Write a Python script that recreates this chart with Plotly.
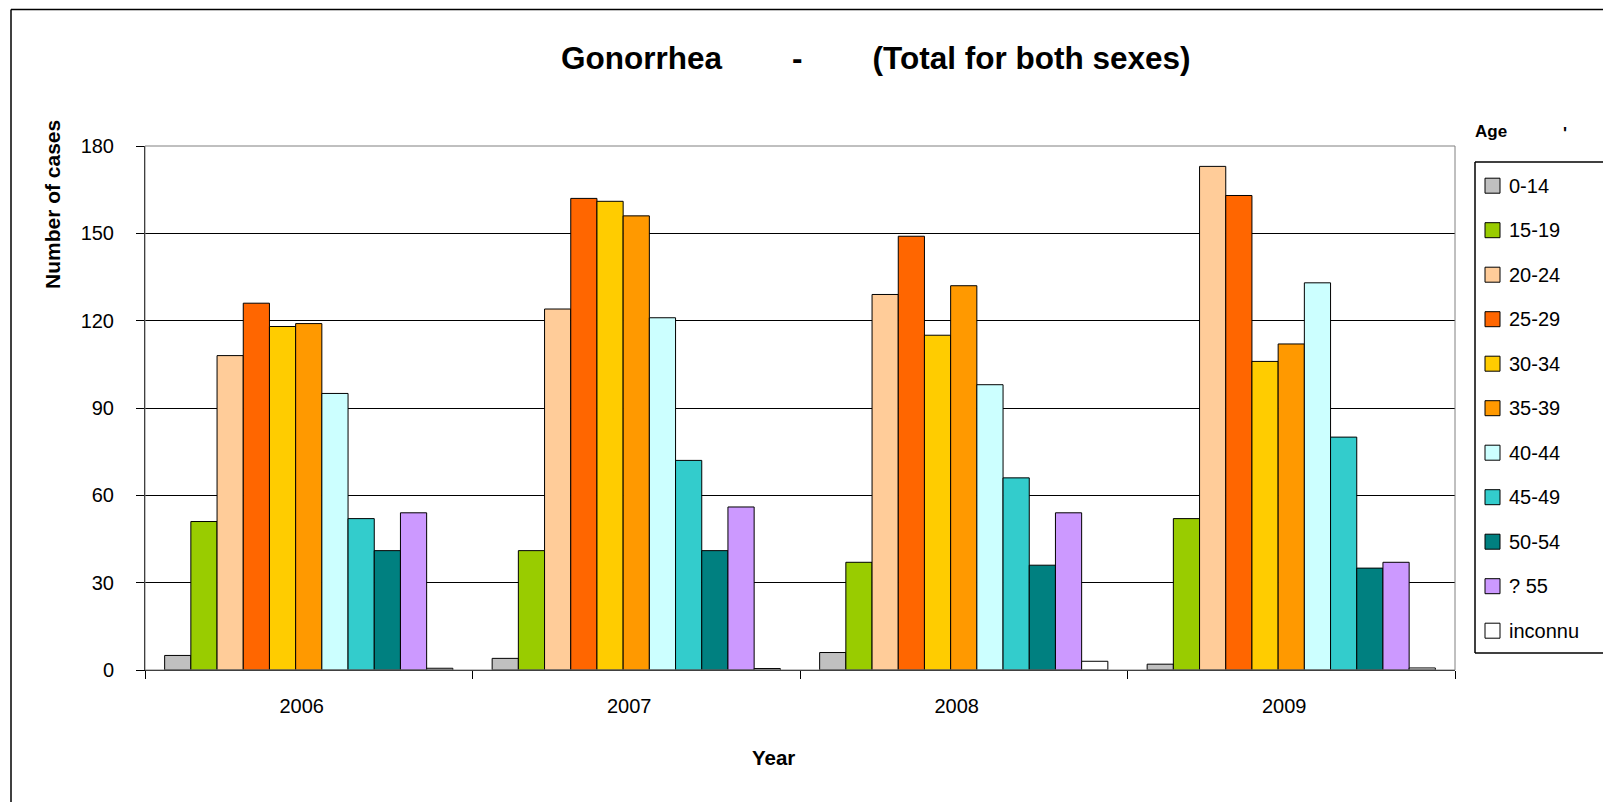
import plotly.graph_objects as go

# Reported gonorrhea cases by age group, both sexes combined
years = ["2006", "2007", "2008", "2009"]
age_groups = ["0-14", "15-19", "20-24", "25-29", "30-34", "35-39",
              "40-44", "45-49", "50-54", "? 55", "inconnu"]
bar_colors = ["#C0C0C0", "#99CC00", "#FFCC99", "#FF6600", "#FFCC00", "#FF9900",
              "#CCFFFF", "#33CCCC", "#008080", "#CC99FF", "#FFFFFF"]

cases_0_14 = [5, 4, 6, 2]
cases_15_19 = [51, 41, 37, 52]
cases_20_24 = [108, 124, 129, 173]
cases_25_29 = [126, 162, 149, 163]
cases_30_34 = [118, 161, 115, 106]
cases_35_39 = [119, 156, 132, 112]
cases_40_44 = [95, 121, 98, 133]
cases_45_49 = [52, 72, 66, 80]
cases_50_54 = [41, 41, 36, 35]
cases_55_plus = [54, 56, 54, 37]
cases_unknown = [0.6, 0.5, 3, 0.7]

series = [cases_0_14, cases_15_19, cases_20_24, cases_25_29, cases_30_34,
          cases_35_39, cases_40_44, cases_45_49, cases_50_54, cases_55_plus,
          cases_unknown]

y_ticks = [0, 30, 60, 90, 120, 150, 180]

W, H = 1603, 802
L, R, T, B = 145, 148, 146, 132
PW, PH = W - L - R, H - T - B
FONT = "Liberation Sans, Arial, sans-serif"


def px_x(px):
    return (px - L) / PW


def px_y(py):
    return (H - B - py) / PH


def edge(x0, y0, x1, y1, width=1.5, color="#000000"):
    return dict(type="line", xref="paper", yref="paper",
                x0=px_x(x0), y0=px_y(y0), x1=px_x(x1), y1=px_y(y1),
                line=dict(color=color, width=width))


fig = go.Figure()
for name, color, vals in zip(age_groups, bar_colors, series):
    fig.add_trace(go.Bar(
        x=years, y=vals, name=name,
        marker=dict(color=color, line=dict(color="#000000", width=1)),
        showlegend=False,
    ))

shapes = []
annotations = []

# outer chart frame: only its left and top edges fall inside the page
shapes.append(edge(11, 9.5, 11, 802))
shapes.append(edge(11, 9.5, 1620, 9.5))
# plot-area border (grey top/right edges)
shapes.append(dict(type="rect", xref="paper", yref="paper",
                   x0=0, x1=1, y0=0, y1=1,
                   line=dict(color="#808080", width=1), fillcolor="rgba(0,0,0,0)",
                   layer="above"))

# legend box, open on the right where it runs off the page
shapes.append(edge(1475, 162, 1620, 162))
shapes.append(edge(1475, 162, 1475, 653))
shapes.append(edge(1475, 653, 1620, 653))
for i, (name, color) in enumerate(zip(age_groups, bar_colors)):
    cy = 185.7 + i * 44.5
    shapes.append(dict(type="rect", xref="paper", yref="paper",
                       x0=px_x(1485), x1=px_x(1500), y0=px_y(cy + 7.5), y1=px_y(cy - 7.5),
                       line=dict(color="#000000", width=1), fillcolor=color))
    annotations.append(dict(text=name, xref="paper", yref="paper",
                            x=px_x(1507), y=px_y(cy), xanchor="left", yanchor="middle",
                            showarrow=False, font=dict(family=FONT, size=20, color="#000000")))

annotations.append(dict(text="<b>Age</b>", xref="paper", yref="paper",
                        x=px_x(1473), y=px_y(132), xanchor="left", yanchor="middle",
                        showarrow=False, font=dict(family=FONT, size=17, color="#000000")))
annotations.append(dict(text="<b>'</b>", xref="paper", yref="paper",
                        x=px_x(1565), y=px_y(133), xanchor="center", yanchor="middle",
                        showarrow=False, font=dict(family=FONT, size=17, color="#000000")))

# chart title
sp = "\u00a0" * 8
annotations.append(dict(text=f"<b>Gonorrhea{sp}-{sp}(Total for both sexes)</b>",
                        xref="paper", yref="paper", x=px_x(875), y=px_y(58),
                        xanchor="center", yanchor="middle", showarrow=False,
                        font=dict(family=FONT, size=31.5, color="#000000")))
# axis titles
annotations.append(dict(text="<b>Number of cases</b>", xref="paper", yref="paper",
                        x=px_x(52), y=px_y(205), xanchor="center", yanchor="middle",
                        textangle=-90, showarrow=False,
                        font=dict(family=FONT, size=21, color="#000000")))
annotations.append(dict(text="<b>Year</b>", xref="paper", yref="paper",
                        x=px_x(773), y=px_y(757), xanchor="center", yanchor="middle",
                        showarrow=False, font=dict(family=FONT, size=20.5, color="#000000")))

fig.update_layout(
    width=W, height=H,
    margin=dict(l=L, r=R, t=T, b=B, autoexpand=False),
    paper_bgcolor="#FFFFFF", plot_bgcolor="#FFFFFF",
    barmode="group", bargap=0.12, bargroupgap=0,
    font=dict(family=FONT, size=20, color="#000000"),
    shapes=shapes, annotations=annotations,
    showlegend=False,
)
fig.update_xaxes(
    type="category", showgrid=False, showline=True, linecolor="#000000", linewidth=1,
    ticks="outside", tickson="boundaries", ticklen=8, tickcolor="#000000", tickwidth=1,
    ticklabelstandoff=18, ticklabelshift=-7,
    tickfont=dict(family=FONT, size=20, color="#000000"),
)
fig.update_yaxes(
    range=[0, 180], tickvals=y_ticks, ticktext=[str(v) for v in y_ticks],
    showgrid=True, gridcolor="#000000", gridwidth=1,
    zeroline=False, showline=True, linecolor="#000000", linewidth=1,
    ticks="outside", ticklen=8, tickcolor="#000000", tickwidth=1,
    ticklabelstandoff=18, tickfont=dict(family=FONT, size=20, color="#000000"),
)

fig.write_html("out.html")
